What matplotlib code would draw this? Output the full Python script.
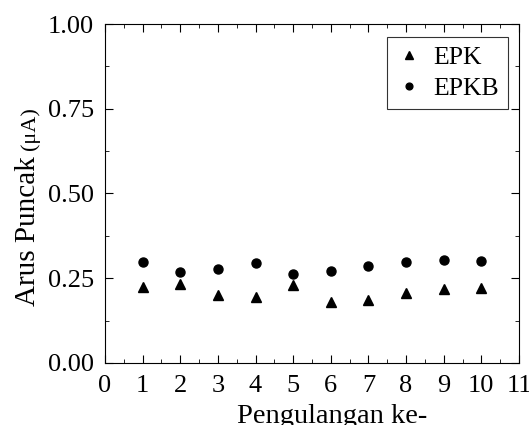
import matplotlib.pyplot as plt
from matplotlib.ticker import MultipleLocator

plt.rcParams['font.family'] = ['Liberation Serif', 'DejaVu Serif']
plt.rcParams['mathtext.fontset'] = 'stix'

ulangan = [1, 2, 3, 4, 5, 6, 7, 8, 9, 10]
epk = [0.225, 0.232, 0.201, 0.196, 0.229, 0.180, 0.185, 0.207, 0.218, 0.220]
epkb = [0.297, 0.269, 0.277, 0.294, 0.263, 0.271, 0.286, 0.298, 0.305, 0.301]

fig = plt.figure(figsize=(5.29, 4.25), dpi=100)
ax = fig.add_axes([0.1985, 0.146, 0.7825, 0.7975])

ax.plot(ulangan, epk, '^', color='black', markersize=7, label='EPK')
ax.plot(ulangan, epkb, 'o', color='black', markersize=6.5, label='EPKB')

ax.set_xlim(0, 11)
ax.set_ylim(0, 1.0)
ax.xaxis.set_major_locator(MultipleLocator(1))
ax.xaxis.set_minor_locator(MultipleLocator(0.5))
ax.yaxis.set_major_locator(MultipleLocator(0.25))
ax.yaxis.set_minor_locator(MultipleLocator(0.125))
ax.yaxis.set_major_formatter(plt.FormatStrFormatter('%.2f'))

ax.tick_params(which='both', direction='in', top=True, right=True, labelsize=19)
ax.tick_params(axis='x', which='major', pad=9)
ax.tick_params(axis='y', which='major', pad=8)
ax.tick_params(which='major', length=6)
ax.tick_params(which='minor', length=3)

# x label, placed by its baseline like the reference
ax.set_xlabel('Pengulangan ke-', fontsize=20.5)
ax.xaxis.set_label_coords(0.548, -0.177)
ax.xaxis.label.set_verticalalignment('baseline')

# y label in two sizes
fig.text(35 / 529, 1 - 306 / 425, 'Arus Puncak', fontsize=21, rotation=90,
         rotation_mode='anchor', ha='left', va='baseline')
fig.text(35 / 529, 1 - 150 / 425, '(\u03bcA)', fontsize=16, rotation=90,
         rotation_mode='anchor', ha='left', va='baseline')

leg = ax.legend(loc='upper right', bbox_to_anchor=(0.973, 0.962), borderaxespad=0,
                fontsize=18.5, frameon=True, fancybox=False, edgecolor='black',
                handletextpad=0.45, borderpad=0.35, handlelength=1.0,
                markerscale=0.75, labelspacing=0.3)
leg.get_frame().set_linewidth(0.8)

fig.savefig('out.png', dpi=100)
